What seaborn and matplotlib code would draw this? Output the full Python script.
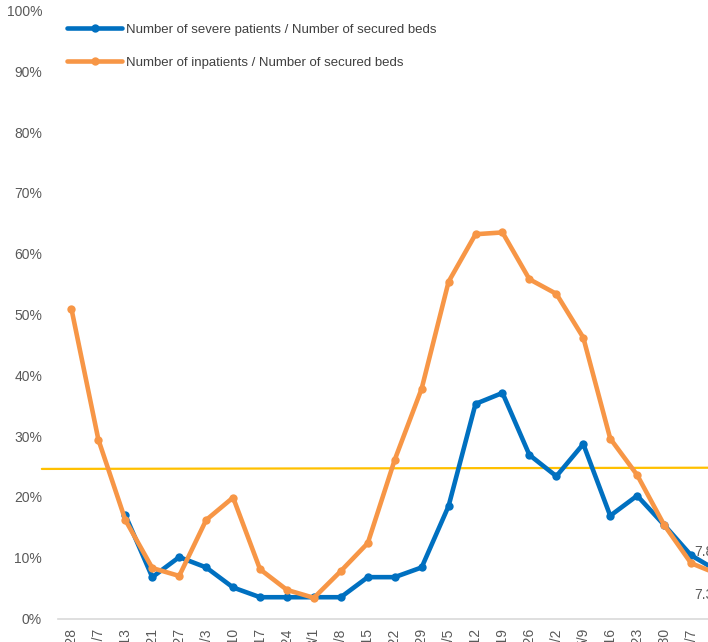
import matplotlib
matplotlib.use("Agg")
import matplotlib.pyplot as plt
import seaborn as sns
import numpy as np
import pandas as pd

# ---------------------------------------------------------------
# data (percent of secured beds)
# ---------------------------------------------------------------
dates = ["12/28", "1/7", "1/13", "1/21", "1/27", "2/3", "2/10", "2/17",
         "2/24", "3/1", "3/8", "3/15", "3/22", "3/29", "4/5", "4/12",
         "4/19", "4/26", "5/2", "5/9", "5/16", "5/23", "5/30", "6/7", "6/14"]

severe = [np.nan, np.nan, 17.0, 6.8, 10.1, 8.4, 5.1, 3.5, 3.5, 3.5, 3.5,
          6.8, 6.8, 8.4, 18.5, 35.3, 37.1, 26.9, 23.4, 28.7, 16.9, 20.2,
          15.4, 10.4, 7.8]

inpatients = [50.9, 29.4, 16.2, 8.3, 7.0, 16.2, 19.9, 8.1, 4.7, 3.4, 7.8,
              12.4, 26.1, 37.8, 55.4, 63.2, 63.5, 55.8, 53.4, 46.2, 29.6,
              23.6, 15.4, 9.1, 7.3]

# yellow reference line (left end, right end)
threshold = [24.6, 24.8]

severe_name = "Number of severe patients / Number of secured beds"
inpat_name = "Number of inpatients / Number of secured beds"

BLUE = "#0070C0"
ORANGE = "#F79646"
YELLOW = "#FFC000"
GREY = "#595959"

sns.set_style("white")
plt.rcParams["font.family"] = ["Liberation Sans", "DejaVu Sans"]

df = pd.DataFrame({"idx": np.arange(len(dates)),
                   "date": dates,
                   "severe": severe,
                   "inpatients": inpatients})

fig = plt.figure(figsize=(7.08, 6.42), dpi=100)
ax = fig.add_axes([58 / 708, 23.5 / 642, 650 / 708, 608 / 642])

# threshold line, runs a little past the left of the plot area
x_lo, x_hi = -1.1, 23.9
ax.plot([x_lo, x_hi], threshold, color=YELLOW, lw=1.6, clip_on=False, zorder=1)

sev = df.dropna(subset=["severe"])
sns.lineplot(data=sev, x="idx", y="severe", color=BLUE, lw=3.3,
             marker="o", markersize=6, markeredgewidth=0,
             label=severe_name, ax=ax, zorder=3)
sns.lineplot(data=df, x="idx", y="inpatients", color=ORANGE, lw=3.3,
             marker="o", markersize=6, markeredgewidth=0,
             label=inpat_name, ax=ax, zorder=4)

# data labels on the last point (falls outside the crop)
last = len(dates) - 1
ax.annotate(f"{severe[last]:.1f}%", xy=(last, severe[last]),
            xytext=(-17, 14), textcoords="offset points",
            ha="left", va="center", fontsize=10, color=GREY,
            annotation_clip=False)
ax.annotate(f"{inpatients[last]:.1f}%", xy=(last, inpatients[last]),
            xytext=(-17, -15), textcoords="offset points",
            ha="left", va="center", fontsize=10, color=GREY,
            annotation_clip=False)

ax.set_xticks(df["idx"])
ax.set_xticklabels(dates, rotation=90, va="top", ha="center")
ax.set_yticks(range(0, 101, 10))
ax.set_yticklabels([f"{v}%" for v in range(0, 101, 10)])
ax.set_xlim(-0.5, 23.63)
ax.set_ylim(0, 100)
ax.tick_params(axis="both", length=0, labelsize=10, labelcolor=GREY)
ax.tick_params(axis="x", pad=7)
ax.tick_params(axis="y", pad=11.5)
ax.set_xlabel("")
ax.set_ylabel("")

for side in ["top", "right", "left"]:
    ax.spines[side].set_visible(False)
ax.spines["bottom"].set_color("#D9D9D9")
ax.spines["bottom"].set_linewidth(1.2)

leg = ax.legend(loc="upper left", bbox_to_anchor=(67 / 708, 1 - 23.5 / 642),
                bbox_transform=fig.transFigure, frameon=False,
                fontsize=9.5, handlelength=4.2, handletextpad=0.3,
                labelspacing=1.6, borderpad=0, borderaxespad=0,
                numpoints=1)
for t in leg.get_texts():
    t.set_color("#404040")

fig.savefig("out.png", dpi=100)
